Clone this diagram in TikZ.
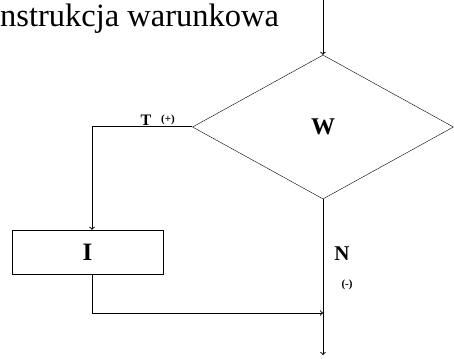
\documentclass[tikz,border=0pt]{standalone}
\usepackage{fontspec}
\setmainfont{Liberation Serif}
\newfontfamily\titlefont{Liberation Serif}
\usepackage{tikz}
\usetikzlibrary{shapes.geometric,arrows,positioning}

\begin{document}
\begin{tikzpicture}[
    x=1pt, y=-1pt,
    decision/.style={diamond, draw, minimum width=261pt, minimum height=144pt, inner sep=0pt, font=\fontsize{24}{26}\selectfont\bfseries},
    box/.style={rectangle, draw, minimum width=151pt, minimum height=44pt, inner sep=0pt, font=\fontsize{25}{27}\selectfont\bfseries},
    lbl/.style={inner sep=0pt, font=\fontsize{16}{18}\selectfont\bfseries},
    sign/.style={inner sep=0pt, font=\fontsize{11}{12}\selectfont\bfseries},
    arrow/.style={->, line width=1pt},
    line/.style={line width=1pt}
]
    \useasboundingbox (0,0) rectangle (454,358);

    % Title
    \node[anchor=base west, inner sep=0pt, font=\titlefont\fontsize{32.5}{36}\selectfont] (title) at (0,27) {nstrukcja warunkowa};

    % Decision and instruction
    \node[decision] (cond) at (323,127) {W};
    \node[box] (instr) at (87.5,252) {I};

    % Helper points
    \coordinate (start) at (323,0);
    \coordinate (corner) at (92,127);
    \coordinate (join) at (323,313);
    \coordinate (stop) at (323,355);

    % Branch labels
    \node[lbl, anchor=base] (yes) at (146,126) {T};
    \node[sign] (yessign) at (168,120) {(+)};
    \node[lbl, font=\fontsize{21}{23}\selectfont\bfseries] (no) at (342,254) {N};
    \node[sign] (nosign) at (347,285) {(-)};

    % Arrows
    \draw[arrow] (start) -- (cond.north);
    \draw[arrow] (cond.west) -- (corner) -- (corner |- instr.north);
    \draw[arrow] (corner |- instr.south) -- (corner |- join) -- (join);
    \draw[arrow] (cond.south) -- (stop);

\end{tikzpicture}
\end{document}
